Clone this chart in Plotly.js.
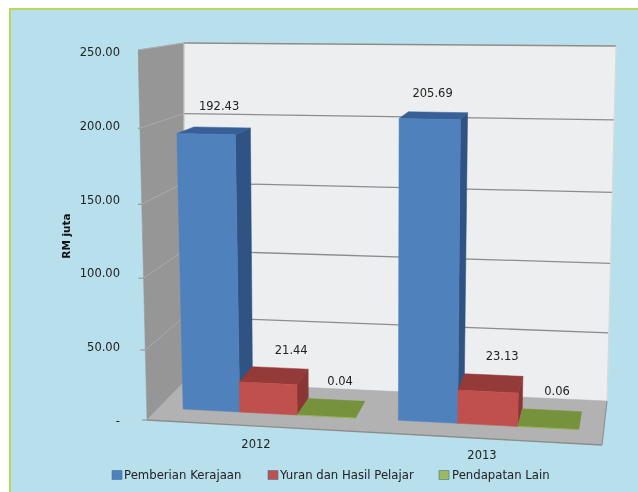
<!DOCTYPE html>
<html><head><meta charset="utf-8">
<script src="https://cdn.plot.ly/plotly-3.0.1.min.js"></script>
<style>html,body{margin:0;padding:0;background:#fff}#c{width:638px;height:492px;filter:blur(0.3px)}</style>
</head><body><div id="c"></div>
<script>
const categories = ['2012','2013'];
const seriesNames = ['Pemberian Kerajaan','Yuran dan Hasil Pelajar','Pendapatan Lain'];
const pemberian = [192.43,205.69];
const yuran = [21.44,23.13];
const lain = [0.04,0.06];
const valueTicks = [0,50,100,150,200,250];
const tickText = ['-','50.00','100.00','150.00','200.00','250.00'];
const labelText = [['192.43','205.69'],['21.44','23.13'],['0.04','0.06']];
const labelShift = [[[11,-27],[2,-25]],[[23,-32],[14,-34]],[[14,-34],[9,-36]]];
const catPos = [[256,445],[482,456]];
const legendSwatchX = [112,268,439];
const legendTextX = [124,279,452];
const frontColor = ['#4F81BD','#C0504D','#9BBB59'];
const sideColor = ['#2F5382','#8A3634','#6F8A3C'];
const topColor = ['#376099','#943A38','#76923C'];

const series = [pemberian,yuran,lain];
const L=138,T=0,B=472,W=638,H=492,SC=1.476,Y0=421;
const toX=p=>p-L, toY=p=>(Y0-p)/SC;
function homog(q){
  const [a0,a1,a2,a3]=q;
  const dx1=a1[0]-a2[0],dx2=a3[0]-a2[0],sx=a0[0]-a1[0]+a2[0]-a3[0];
  const dy1=a1[1]-a2[1],dy2=a3[1]-a2[1],sy=a0[1]-a1[1]+a2[1]-a3[1];
  const D=dx1*dy2-dx2*dy1,g=(sx*dy2-dx2*sy)/D,h=(dx1*sy-sx*dy1)/D;
  const a=a1[0]-a0[0]+g*a1[0],b=a3[0]-a0[0]+h*a3[0],c=a0[0];
  const d=a1[1]-a0[1]+g*a1[1],e=a3[1]-a0[1]+h*a3[1],f=a0[1];
  return (u,t)=>{const z=g*u+h*t+1;return [(a*u+b*t+c)/z,(d*u+e*t+f)/z];};
}
const front=homog([[147,420],[602,445],[612,58],[138,50]]);
const back=homog([[184,382],[607,401],[616,46],[184,43]]);
function P(u,v,w){const t=v/250,a=front(u,t),b=back(u,t);return [a[0]+(b[0]-a[0])*w,a[1]+(b[1]-a[1])*w];}
// bars lean a little more than the walls on the left side of the source perspective
function Q(u,v,w){const p=P(u,v,w);return [p[0]-3*(v/250)*(1-u),p[1]];}
// grid levels sit slightly lower than the bar scale in the source perspective
function G(v){const t=v/250;return 250*t/(1+0.03*(1-t));}
const traces=[];
function poly(pts,fill,line,lw){
  const c=pts.concat([pts[0]]);
  traces.push({type:'scatter',mode:'lines',x:c.map(p=>toX(p[0])),y:c.map(p=>toY(p[1])),fill:'toself',fillcolor:fill,
    line:{color:line||fill,width:lw===undefined?0.5:lw},hoverinfo:'skip',showlegend:false,cliponaxis:false});
}
function seg(a,b,col,lw){
  traces.push({type:'scatter',mode:'lines',x:[toX(a[0]),toX(b[0])],y:[toY(a[1]),toY(b[1])],
    line:{color:col,width:lw},hoverinfo:'skip',showlegend:false,cliponaxis:false});
}
poly([P(0,0,0),P(0,250,0),P(0,250,1),P(0,0,1)],'#969696');
poly([P(0,0,1),P(1,0,1),P(1,250,1),P(0,250,1)],'#ECEEEF');
poly([P(0,0,0),P(1,0,0),P(1,0,1),P(0,0,1)],'#B2B2B2');
valueTicks.slice(1).forEach(v=>{
  const g=G(v);
  seg(P(0,g,1),P(1,g,1),'#8C8C8C',1.3);
  seg(P(0,g,0),P(0,g,1),'#ABABAB',1);
});
valueTicks.forEach(v=>{
  const p=P(0,G(v),0);
  seg([p[0]-5,p[1]],p,'#8C8C8C',1);
});
seg(P(0,0,0),P(1,0,0),'#8C8C8C',1.3);
seg(P(1,0,0),P(1,0,1),'#8C8C8C',1);
seg(P(1,0,1),P(1,250,1),'#D8D8D8',1);
seg(P(0,250,1),P(0,0,1),'#BDBDBD',1);
const W0=0.32,W1=0.73,GAP=0.057,BW=0.132,STEP=0.493;
const bx=(c,s)=>c*STEP+GAP+s*BW;
categories.forEach((cat,c)=>{
  series.forEach((vals,s)=>{
    const v=vals[c],u0=bx(c,s),u1=u0+BW;
    poly([Q(u1,0,W0),Q(u1,v,W0),Q(u1,v,W1),Q(u1,0,W1)],sideColor[s]);
    poly([Q(u0,v,W0),Q(u1,v,W0),Q(u1,v,W1),Q(u0,v,W1)],topColor[s]);
    poly([Q(u0,0,W0),Q(u1,0,W0),Q(u1,v,W0),Q(u0,v,W0)],frontColor[s]);
  });
});
const tf={family:'DejaVu Sans',size:11.5,color:'#222'};
series.forEach((vals,s)=>{
  const xs=[],ys=[];
  vals.forEach((v,c)=>{
    const q=P(bx(c,s)+BW/2,v,W0),o=labelShift[s][c];
    xs.push(toX(q[0]+o[0]));ys.push(toY(q[1]+o[1]));
  });
  traces.push({type:'scatter',mode:'text',x:xs,y:ys,text:labelText[s],textposition:'middle center',textfont:tf,
    hoverinfo:'skip',showlegend:false,cliponaxis:false});
});
traces.push({type:'scatter',mode:'text',x:catPos.map(p=>toX(p[0])),y:catPos.map(p=>toY(p[1])),text:categories,
  textposition:'middle center',textfont:tf,hoverinfo:'skip',showlegend:false,cliponaxis:false});
const plotW=W-L,plotH=B-T;
const px=p=>(p-L)/plotW, py=p=>(B-p)/plotH;
const shapes=[{type:'rect',layer:'below',xref:'paper',yref:'paper',x0:px(10),x1:px(660),y0:py(520),y1:py(9),
    fillcolor:'#B7DFEC',line:{color:'#BCD65A',width:2}}];
const annotations=[];
seriesNames.forEach((n,s)=>{
  shapes.push({type:'rect',xref:'paper',yref:'paper',x0:px(legendSwatchX[s]),x1:px(legendSwatchX[s]+10),y0:py(479.5),y1:py(470.5),
    fillcolor:frontColor[s],line:{color:'#4A6F96',width:0.6}});
  annotations.push({xref:'paper',yref:'paper',x:px(legendTextX[s]),y:py(475),xanchor:'left',yanchor:'middle',showarrow:false,
    text:n,font:{family:'DejaVu Sans',size:11.7,color:'#222'},borderpad:0,borderwidth:0});
});
const layout={
  width:W,height:H,margin:{l:L,r:0,t:T,b:H-B,pad:0},autosize:false,
  paper_bgcolor:'#FFFFFF',plot_bgcolor:'rgba(0,0,0,0)',showlegend:false,
  xaxis:{range:[0,plotW],visible:false,fixedrange:true},
  yaxis:{range:[toY(B),toY(T)],tickmode:'array',tickvals:valueTicks,ticktext:tickText,ticks:'',
    showgrid:false,zeroline:false,showline:false,ticklabelstandoff:17,tickfont:tf,fixedrange:true,
    title:{text:'<b>RM juta</b>',font:{family:'DejaVu Sans',size:10.5,color:'#111'},standoff:7}},
  shapes,annotations
};
Plotly.newPlot('c',traces,layout,{displayModeBar:false,staticPlot:true});
</script></body></html>
